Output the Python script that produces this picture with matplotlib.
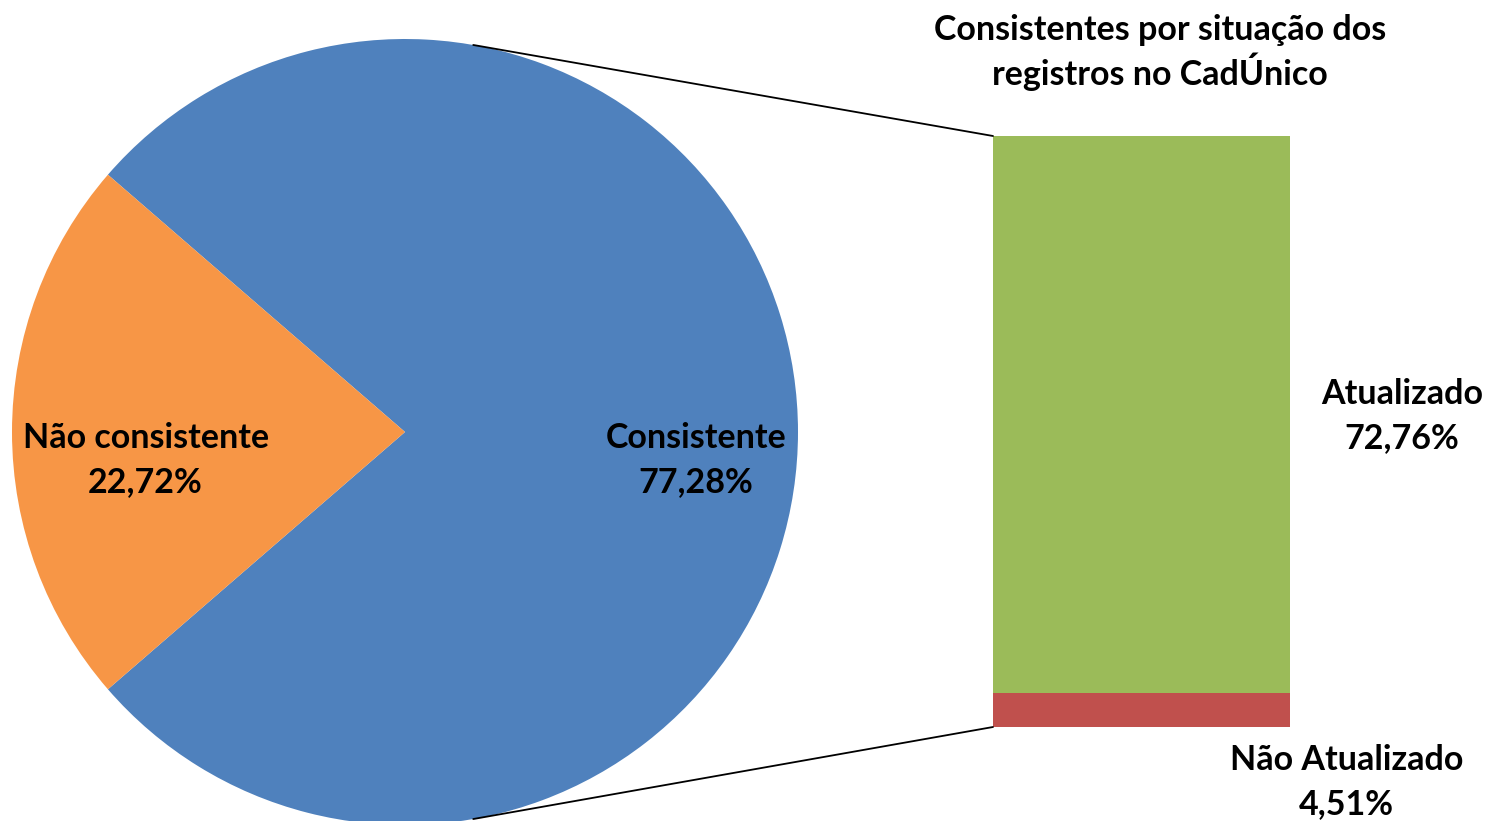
import matplotlib
matplotlib.use("Agg")
import matplotlib.pyplot as plt
from matplotlib.patches import ConnectionPatch
import numpy as np

plt.rcParams['font.family'] = ['Lato', 'DejaVu Sans']

# dados
pie_labels = ['Consistente', 'Não consistente']
pie_values = [77.28, 22.72]
pie_colors = ['#4F81BD', '#F79646']

bar_labels = ['Não Atualizado', 'Atualizado']
bar_values = [4.51, 72.76]
bar_colors = ['#C0504D', '#9BBB59']

titulo = 'Consistentes por situação dos\nregistros no CadÚnico'

W, H = 1485, 821
fig = plt.figure(figsize=(W / 100, H / 100), dpi=100)

# pizza
ax1 = fig.add_axes([12 / W, (H - 432 - 393) / H, 786 / W, 786 / H])
start = 180 + pie_values[1] / 100 * 360 / 2
wedges, _ = ax1.pie(pie_values, colors=pie_colors, startangle=start,
                    radius=1, wedgeprops=dict(linewidth=0))
ax1.set_xlim(-1, 1)
ax1.set_ylim(-1, 1)
ax1.axis('off')

fs = 24.5
ls = 1.45
ax1.text(0.74, -0.072, pie_labels[0] + '\n' + '77,28%',
         ha='center', va='center', fontsize=fs, fontweight='bold', linespacing=ls)
ax1.text(-0.66, -0.072, pie_labels[1] + '\n' + '22,72%',
         ha='center', va='center', fontsize=fs, fontweight='bold', linespacing=ls)

# barra
ax2 = fig.add_axes([993 / W, (H - 727) / H, 297 / W, 591 / H])
bottom = 0
for v, c in zip(bar_values, bar_colors):
    ax2.bar(0, v, width=1, bottom=bottom, color=c, linewidth=0)
    bottom += v
ax2.set_xlim(-0.5, 0.5)
ax2.set_ylim(0, sum(bar_values))
ax2.axis('off')

ax2.text(1.377, 0.526, bar_labels[1] + '\n' + '72,76%', transform=ax2.transAxes,
         ha='center', va='center', fontsize=fs, fontweight='bold', linespacing=ls)
ax2.text(1.19, -0.093, bar_labels[0] + '\n' + '4,51%', transform=ax2.transAxes,
         ha='center', va='center', fontsize=fs, fontweight='bold', linespacing=ls)
ax2.text(0.562, 1.142, titulo, transform=ax2.transAxes,
         ha='center', va='center', fontsize=fs, fontweight='bold', linespacing=1.2)

# linhas de ligacao
ang = np.deg2rad(80)
for sgn, y in [(1, sum(bar_values)), (-1, 0)]:
    con = ConnectionPatch(xyA=(np.cos(ang), sgn * np.sin(ang)), coordsA=ax1.transData,
                          xyB=(-0.5, y), coordsB=ax2.transData,
                          color='black', linewidth=1.3)
    fig.add_artist(con)

fig.savefig('out.png', dpi=100)
